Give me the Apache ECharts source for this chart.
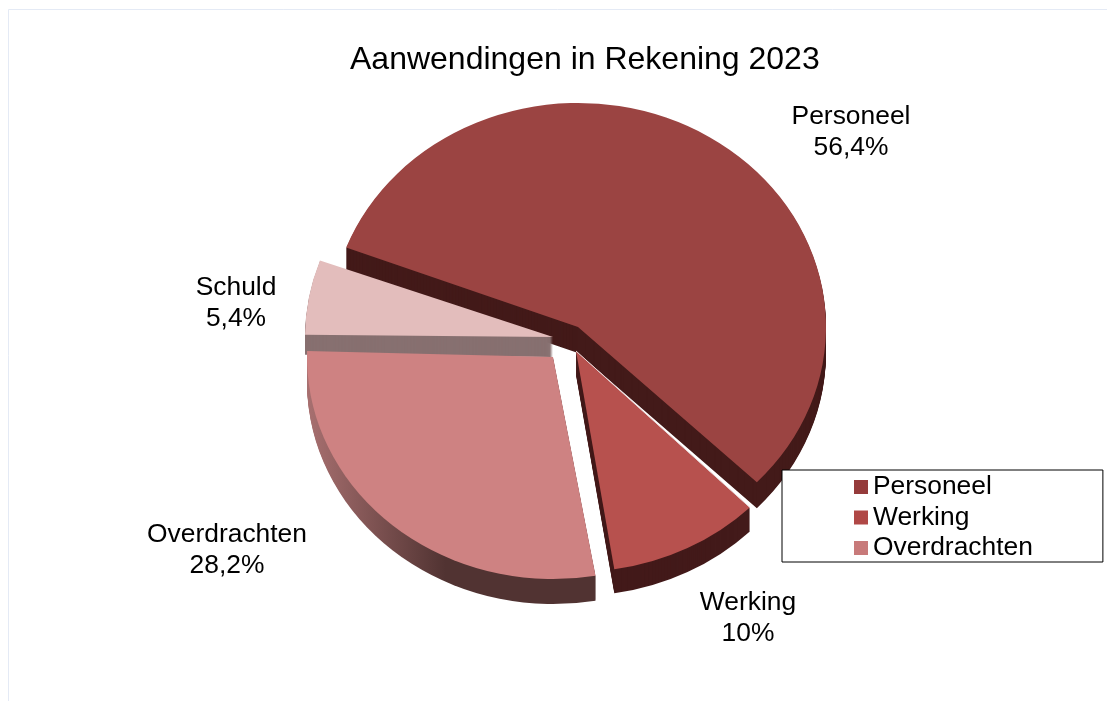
<!DOCTYPE html>
<html>
<head>
<meta charset="utf-8">
<style>html,body{margin:0;padding:0;background:#fff}#c{width:1107px;height:701px}</style>
<script src="https://cdn.jsdelivr.net/npm/echarts@6/dist/echarts.min.js"></script>
</head>
<body>
<div id="c"></div>
<script>
// data
var titleText = 'Aanwendingen in Rekening 2023';
var categories = ['Personeel', 'Werking', 'Overdrachten', 'Schuld'];
var values = [56.4, 10, 28.2, 5.4];
var legendNames = ['Personeel', 'Werking', 'Overdrachten'];

// styles
var topColors = ['#9B4442', '#B7514E', '#CE8282', '#E3BDBC'];
var legendColors = ['#953B3B', '#B04846', '#C87A7A'];
var wallColors = ['#431A19', '#431A1A', '#513332', '#877070'];

// geometry of the tilted, exploded pie
var firstAngle = 290;
var perspectiveTurn = [0.8, 2, 1, 0];
var centersX = [578, 576, 553, 553];
var centersY = [327, 351, 357, 337];
var radiiX = [248, 246, 246, 248];
var radiiY = [224, 221, 222, 224];
var depths = [26, 24, 25, 20];
var labelX = [851, 748, 227, 236];
var labelY = [132, 618, 550, 303];
var drawOrder = [0, 3, 2, 1];

var total = values.reduce(function (a, b) { return a + b; }, 0);
function startOf(i) {
  var s = firstAngle;
  for (var k = 0; k < i; k++) s += values[k] / total * 360;
  return s + perspectiveTurn[i];
}
function rad(d) { return (d - 90) * Math.PI / 180; }
function pct(v) { return String(v).replace('.', ',') + '%'; }

function wallFill(i) {
  if (i !== 2) return wallColors[i];
  return {
    type: 'linear', x: 0, y: 0, x2: 1, y2: 0,
    colorStops: [
      { offset: 0, color: '#A87070' },
      { offset: 0.48, color: '#513332' },
      { offset: 1, color: '#513332' }
    ]
  };
}

function renderSlice(params, api) {
  var i = categories.indexOf(params.seriesName);
  var sweep = api.value(0) / total * 360;
  var a0 = startOf(i), a1 = a0 + sweep;
  var rx = radiiX[i], ry = radiiY[i], sy = ry / rx;
  var kids = [];
  function sector(dy, fill) {
    return {
      type: 'sector', x: centersX[i], y: centersY[i] + dy, scaleY: sy,
      shape: { cx: 0, cy: 0, r0: 0, r: rx, startAngle: rad(a0), endAngle: rad(a1), clockwise: true },
      style: { fill: fill }
    };
  }
  for (var d = depths[i]; d >= 1; d--) kids.push(sector(d, wallFill(i)));
  kids.push(sector(0, topColors[i]));
  if (i === 1) {
    kids.push({
      type: 'line',
      shape: {
        x1: centersX[i], y1: centersY[i],
        x2: centersX[i] + rx * Math.cos(rad(a0)), y2: centersY[i] + ry * Math.sin(rad(a0))
      },
      style: { stroke: '#EADADA', lineWidth: 1 }
    });
  }
  kids.push({
    type: 'text', x: labelX[i], y: labelY[i],
    style: {
      text: categories[i] + '\n' + pct(api.value(0)),
      fill: '#000', font: '26.4px "Liberation Sans", Arial, sans-serif',
      align: 'center', verticalAlign: 'middle', lineHeight: 30.7
    }
  });
  return { type: 'group', children: kids };
}

var chart = echarts.init(document.getElementById('c'), null, { renderer: 'canvas' });
chart.setOption({
  animation: false,
  backgroundColor: '#fff',
  title: {
    text: titleText, left: 350, top: 44, padding: 0,
    textStyle: { fontFamily: '"Liberation Sans", Arial, sans-serif', fontSize: 32, fontWeight: 'normal', color: '#000' }
  },
  legend: {
    orient: 'vertical', left: 782, top: 470,
    data: legendNames.map(function (n, k) { return { name: n, itemStyle: { color: legendColors[k] } }; }),
    icon: 'rect', itemWidth: 14, itemHeight: 14, itemGap: 4.5,
    padding: [4, 70, 1, 72],
    borderColor: '#000', borderWidth: 1, borderRadius: 0, backgroundColor: '#fff',
    selectedMode: false, align: 'left', z: 10,
    textStyle: { fontFamily: '"Liberation Sans", Arial, sans-serif', fontSize: 26.4, color: '#000' }
  },
  graphic: [
    { type: 'line', silent: true, shape: { x1: 8.5, y1: 9.5, x2: 1107, y2: 9.5 }, style: { stroke: '#E4EAF5', lineWidth: 1 } },
    { type: 'line', silent: true, shape: { x1: 8.5, y1: 9.5, x2: 8.5, y2: 701 }, style: { stroke: '#E4EAF5', lineWidth: 1 } }
  ],
  series: drawOrder.map(function (i) {
    return {
      type: 'custom', name: categories[i], coordinateSystem: 'none',
      renderItem: renderSlice, silent: true,
      itemStyle: { color: topColors[i] },
      data: [[values[i]]]
    };
  })
});
</script>
</body>
</html>
